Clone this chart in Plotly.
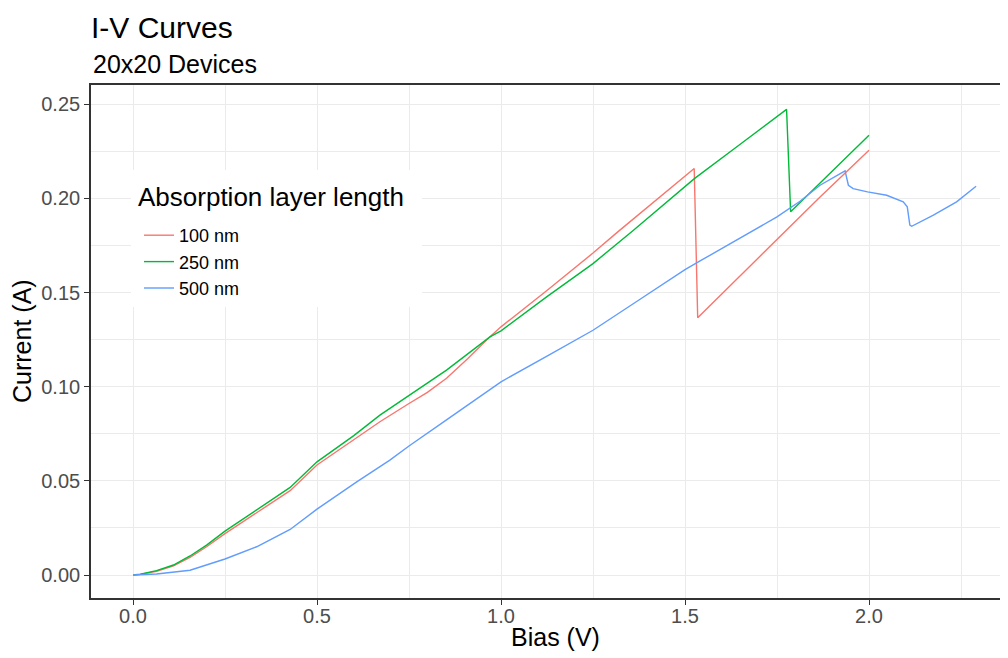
import plotly.graph_objects as go

# I-V data
bias_100 = [0, 0.02, 0.064, 0.11, 0.155, 0.2, 0.25, 0.336, 0.427, 0.5, 0.6, 0.671, 0.75, 0.8,
            0.852, 0.91, 0.97, 1.0, 1.124, 1.25, 1.319, 1.4, 1.525, 1.5345, 1.75, 1.867, 2.0]
current_100 = [0, 0.0003, 0.002, 0.0048, 0.0094, 0.015, 0.022, 0.033, 0.0448, 0.0584, 0.0718,
               0.0814, 0.0911, 0.097, 0.1045, 0.115, 0.1265, 0.1318, 0.151, 0.171, 0.1825,
               0.1955, 0.2159, 0.1366, 0.178, 0.2008, 0.2256]

bias_250 = [0, 0.02, 0.064, 0.11, 0.155, 0.2, 0.25, 0.336, 0.427, 0.5, 0.6, 0.671, 0.75,
            0.852, 0.97, 1.0, 1.124, 1.25, 1.36, 1.5255, 1.65, 1.776, 1.787, 1.867, 2.0]
current_250 = [0, 0.0004, 0.0023, 0.0053, 0.0101, 0.0159, 0.0233, 0.0345, 0.0465, 0.0601, 0.074,
               0.0849, 0.0955, 0.1088, 0.1265, 0.1297, 0.1477, 0.1654, 0.1831, 0.2105, 0.2288,
               0.2473, 0.1929, 0.2081, 0.2335]

bias_500 = [0, 0.064, 0.155, 0.25, 0.336, 0.427, 0.5, 0.608, 0.698, 0.75, 0.85, 1.0, 1.125,
            1.25, 1.38, 1.5, 1.541, 1.65, 1.75, 1.8125, 1.867, 1.935, 1.944, 1.957, 1.996,
            2.048, 2.093, 2.104, 2.111, 2.116, 2.175, 2.238, 2.291]
current_500 = [0, 0.0005, 0.0025, 0.0085, 0.015, 0.0242, 0.035, 0.0495, 0.061, 0.0685, 0.0821,
               0.1026, 0.1163, 0.130, 0.1467, 0.1622, 0.1668, 0.179, 0.1902, 0.1985, 0.207,
               0.2146, 0.207, 0.2052, 0.2035, 0.2017, 0.1982, 0.1955, 0.1858, 0.1852, 0.1911,
               0.1982, 0.2065]

series = [
    ('100 nm', bias_100, current_100, '#F8766D'),
    ('250 nm', bias_250, current_250, '#00BA38'),
    ('500 nm', bias_500, current_500, '#619CFF'),
]

FONT = 'Liberation Sans, Arial, sans-serif'
# the page body has an 8px margin, so the figure is 1000x650 and page pixels are offset by 8
OFF = 8
W, H = 1008 - OFF, 658 - OFF
PL, PT, PB = 91, 85, 598          # plot area edges, page pixels
PW, PH = 1008 - PL, PB - PT


def px(xp):
    return (xp - PL) / PW


def py(yp):
    return (PB - yp) / PH


fig = go.Figure()
for nome, x, y, cor in series:
    fig.add_trace(go.Scatter(x=x, y=y, mode='lines', name=nome,
                             line=dict(color=cor, width=1.4)))

eixo_comum = dict(
    showgrid=True, gridcolor='#EBEBEB', gridwidth=1.4,
    zeroline=False, showline=True, linecolor='#333333', linewidth=1.6,
    ticks='outside', ticklen=5, tickwidth=1.4, tickcolor='#333333',
    tickfont=dict(size=20, color='#4D4D4D', family=FONT),
)

fig.update_layout(
    width=W, height=H,
    margin=dict(l=PL - OFF, r=0, t=PT - OFF, b=H - (PB - OFF)),
    plot_bgcolor='white', paper_bgcolor='white',
    font=dict(family=FONT, color='black'),
    title=dict(text='I-V Curves', x=(PL - OFF) / W, xanchor='left', xref='container',
               y=1 - (27.5 - OFF) / H, yanchor='middle', yref='container',
               font=dict(size=30, color='black', family=FONT)),
    xaxis=dict(range=[-0.11413, 2.37772], tickvals=[0, 0.5, 1.0, 1.5, 2.0],
               ticktext=['0.0', '0.5', '1.0', '1.5', '2.0'], mirror=True,
               ticklabelstandoff=-6,
               minor=dict(tickvals=[0.25, 0.75, 1.25, 1.75, 2.25], showgrid=True,
                          gridcolor='#EBEBEB', gridwidth=1.0, ticks=''),
               **eixo_comum),
    yaxis=dict(range=[-0.012216, 0.26025], tickvals=[0, 0.05, 0.10, 0.15, 0.20, 0.25],
               ticktext=['0.00', '0.05', '0.10', '0.15', '0.20', '0.25'], mirror=False,
               minor=dict(tickvals=[0.025, 0.075, 0.125, 0.175, 0.225], showgrid=True,
                          gridcolor='#EBEBEB', gridwidth=1.0, ticks=''),
               **eixo_comum),
    legend=dict(font=dict(size=18, color='black', family=FONT),
                x=px(139), xanchor='left', y=py(217), yanchor='top',
                bgcolor='rgba(0,0,0,0)', borderwidth=0),
    showlegend=True,
)

# white legend box over the grid
fig.add_shape(type='rect', xref='paper', yref='paper', x0=px(131), x1=px(422),
              y0=py(307), y1=py(170), fillcolor='white', line=dict(width=0), layer='above')

fig.add_annotation(text='Absorption layer length', xref='paper', yref='paper',
                   x=px(136), y=py(197), xanchor='left', yanchor='middle', showarrow=False,
                   font=dict(size=26, color='black', family=FONT))

# subtitle and axis titles
fig.add_annotation(text='20x20 Devices', xref='paper', yref='paper', x=0, y=1,
                   xanchor='left', yanchor='middle', yshift=PT - 64.3, showarrow=False,
                   font=dict(size=25, color='black', family=FONT))
fig.add_annotation(text='Current (A)', xref='paper', yref='paper', x=0, y=0.5,
                   xanchor='center', yanchor='middle', xshift=-(PL - 21.5), textangle=-90,
                   showarrow=False, font=dict(size=25, color='black', family=FONT))
fig.add_annotation(text='Bias (V)', xref='paper', yref='paper', x=px(555.5), y=0,
                   xanchor='center', yanchor='middle', yshift=-(637 - PB),
                   showarrow=False, font=dict(size=25, color='black', family=FONT))

fig.write_html('out.html')
